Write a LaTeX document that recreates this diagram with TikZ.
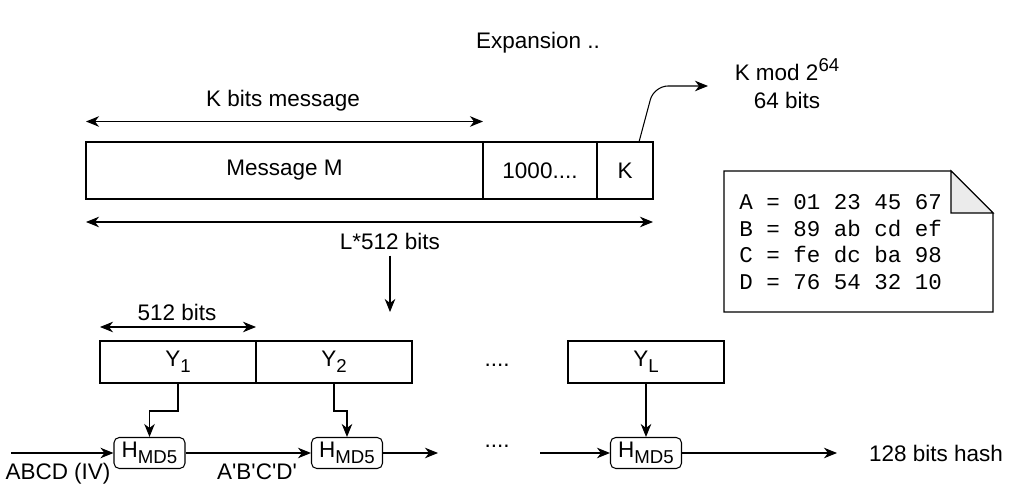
\documentclass[tikz,border=0pt]{standalone}
\usepackage{fontspec}
\setmainfont{Liberation Sans}
\setmonofont{Liberation Mono}
\usetikzlibrary{positioning,arrows.meta}

\newcommand{\lowtext}[1]{\raisebox{-0.5ex}{\fontsize{10.6}{12}\selectfont #1}}
\newcommand{\hightext}[1]{\raisebox{0.75ex}{\fontsize{10.6}{12}\selectfont #1}}

\begin{document}
\begin{tikzpicture}[
        >={Stealth[length=2.6mm, width=2.1mm, inset=0.8mm]},
        semithick,
        every node/.style={font=\fontsize{12.8}{15.5}\selectfont},
        cell/.style={draw, outer sep=0pt, minimum height=1.14cm},
        block/.style={draw, outer sep=0pt, minimum width=3.12cm, minimum height=0.84cm},
        hbox/.style={draw, rounded corners=3pt, minimum width=1.42cm, minimum height=0.62cm, inner sep=1pt},
    ]
        % \draw[draw=black!20] (0, 0) grid (20, 9);
        \useasboundingbox (0, 0) rectangle (20.48, 9.78);

        \node (expansion) at (10.76, 8.92) {Expansion ..};
        \node[align=center, font=\fontsize{12.8}{16}\selectfont] (length-label) at (15.74, 8.1) {K mod 2\hightext{64}\\64 bits};

        \node[cell, minimum width=7.94cm] (message) at (5.69, 6.37) {Message M};
        \node[cell, minimum width=2.28cm, right=0pt of message] (padding) {1000....};
        \node[cell, minimum width=1.12cm, right=0pt of padding] (length) {K};

        \node (message-label) at (5.66, 7.76) {K bits message};
        \draw[<->] ([yshift=4.1mm]message.north west) -- ([yshift=4.1mm]message.north east);
        \node (total-label) at (7.80, 4.96) {L*512 bits};
        \draw[<->] ([yshift=-4.6mm]message.south west) -- ([yshift=-4.6mm]length.south east);

        \coordinate (length-end) at (14.16, 8.06);
        \draw[->, rounded corners=8pt] ([xshift=2.8mm]length.north) -- (13.08, 8.06) -- (length-end);

        \coordinate (split) at (7.80, 3.54);
        \draw[->] (total-label) -- (split);

        \node[block] (y1) at (3.56, 2.54) {Y\lowtext{1}};
        \node[block, right=0pt of y1] (y2) {Y\lowtext{2}};
        \node[anchor=base] (dots-top) at (9.94, 2.44) {....};
        \node[block] (yL) at (12.92, 2.54) {Y\lowtext{L}};
        \node (block-label) at (3.54, 3.54) {512 bits};
        \draw[<->] ([yshift=2.8mm]y1.north west) -- ([yshift=2.8mm]y1.north east);

        \node[hbox] (h1) at (2.99, 0.72) {H\lowtext{MD5}};
        \node[hbox] (h2) at (6.94, 0.72) {H\lowtext{MD5}};
        \node[hbox] (hL) at (12.92, 0.72) {H\lowtext{MD5}};
        \node[anchor=base] (dots-bottom) at (9.94, 0.82) {....};

        \draw[->] (y1.south) -- ++(0, -0.56) -| (h1.north);
        \draw[->] (y2.south) -- ++(0, -0.56) -| (h2.north);
        \draw[->] (yL.south) -- (hL.north);

        \coordinate (iv-start) at (0.22, 0.72);
        \draw[->] (iv-start) -- (h1.west);
        \node (iv-label) at (1.16, 0.30) {ABCD (IV)};
        \draw[->] (h1.east) -- (h2.west);
        \node (chain-label) at (5.14, 0.34) {A\textquotesingle B\textquotesingle C\textquotesingle D\textquotesingle};
        \coordinate (chain-end) at (8.76, 0.72);
        \draw[->] (h2.east) -- (chain-end);
        \coordinate (chain-resume) at (10.80, 0.72);
        \draw[->] (chain-resume) -- (hL.west);
        \coordinate (hash-end) at (16.74, 0.72);
        \draw[->] (hL.east) -- (hash-end);
        \node (hash-label) at (18.72, 0.72) {128 bits hash};

        % initial values note
        \draw (14.48, 6.36) -- (19.02, 6.36) -- (19.86, 5.52) -- (19.86, 3.54) -- (14.48, 3.54) -- cycle;
        \draw[fill=black!8] (19.02, 6.36) -- (19.02, 5.52) -- (19.86, 5.52) -- cycle;
        \node[align=left, anchor=west, font=\ttfamily\fontsize{12.8}{15.1}\selectfont] (iv-values) at (14.66, 4.94) {
            A = 01 23 45 67\\
            B = 89 ab cd ef\\
            C = fe dc ba 98\\
            D = 76 54 32 10
        };

    \end{tikzpicture}
\end{document}
